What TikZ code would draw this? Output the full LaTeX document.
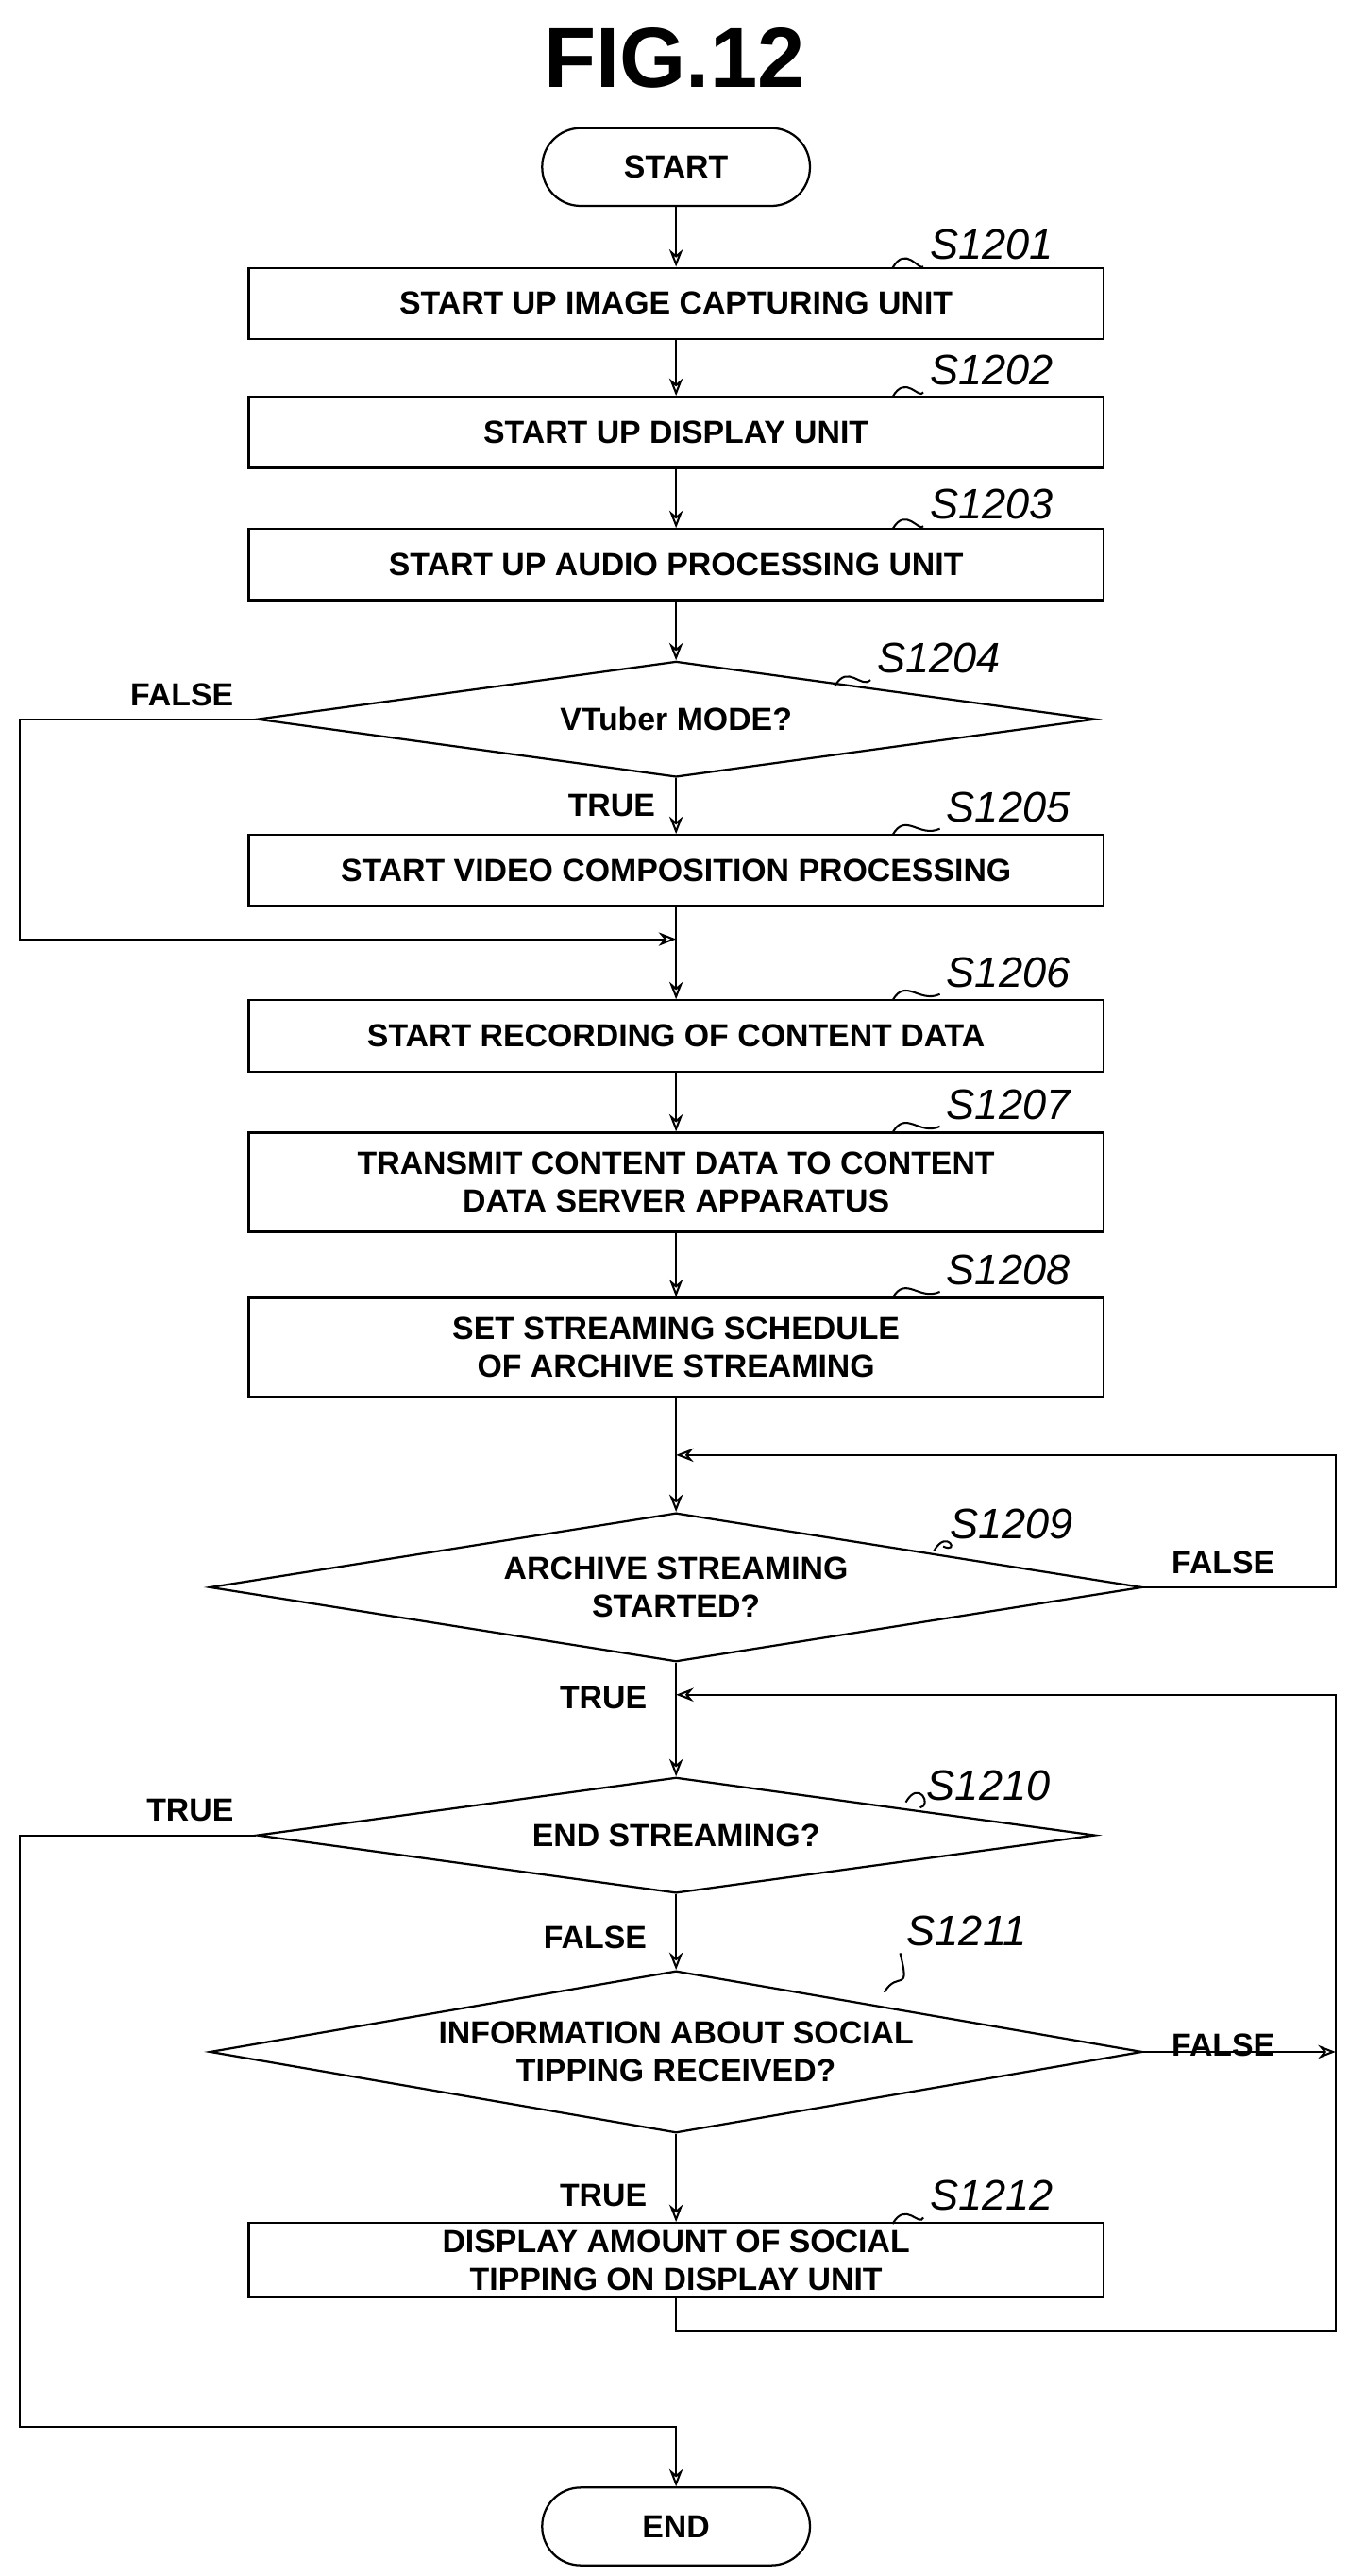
\documentclass[tikz,border=0pt]{standalone}
\usepackage{fontspec}
\setmainfont{Liberation Sans}
\usetikzlibrary{shapes.geometric,arrows.meta}
\begin{document}
\begin{tikzpicture}[x=0.03cm,y=-0.03cm,
  box/.style={draw,line width=1.1pt,minimum width=15.51cm,inner sep=0pt,align=center,font=\fontsize{16.5}{19.5}\selectfont\bfseries},
  dia/.style={draw,diamond,line width=1.1pt,inner sep=0pt,align=center,font=\fontsize{16.5}{19.5}\selectfont\bfseries},
  arr/.style={line width=1pt,-{Stealth[length=9pt,width=7pt,open]}},
  ln/.style={line width=1pt},
  lab/.style={font=\fontsize{22}{26}\selectfont\itshape},
  tf/.style={font=\fontsize{16.5}{19.5}\selectfont\bfseries}]
\useasboundingbox (0,0) rectangle (816,1558);
\node[font=\fontsize{44}{50}\selectfont\bfseries] (title) at (408,35) {FIG.12};
\node[draw,rounded corners=0.7cm,line width=1.1pt,minimum width=4.86cm,minimum height=1.41cm,font=\fontsize{16.5}{19.5}\selectfont\bfseries] (start) at (409,101) {START};
\node[box,minimum height=1.29cm] (s1) at (409,183.5) {START UP IMAGE CAPTURING UNIT};
\node[box,minimum height=1.29cm] (s2) at (409,261.5) {START UP DISPLAY UNIT};
\node[box,minimum height=1.29cm] (s3) at (409,341.5) {START UP AUDIO PROCESSING UNIT};
\node[dia,minimum width=15.21cm,minimum height=2.1cm,aspect=7.24] (s4) at (409,435) {VTuber MODE?};
\node[box,minimum height=1.29cm] (s5) at (409,526.5) {START VIDEO COMPOSITION PROCESSING};
\node[box,minimum height=1.29cm] (s6) at (409,626.5) {START RECORDING OF CONTENT DATA};
\node[box,minimum height=1.8cm] (s7) at (409,715) {TRANSMIT CONTENT DATA TO CONTENT\\DATA SERVER APPARATUS};
\node[box,minimum height=1.8cm] (s8) at (409,815) {SET STREAMING SCHEDULE\\OF ARCHIVE STREAMING};
\node[dia,minimum width=16.92cm,minimum height=2.7cm,aspect=6.27] (s9) at (409,960) {ARCHIVE STREAMING\\STARTED?};
\node[dia,minimum width=15.21cm,minimum height=2.1cm,aspect=7.24] (s10) at (409,1110) {END STREAMING?};
\node[dia,minimum width=16.92cm,minimum height=2.94cm,aspect=5.75] (s11) at (409,1241) {INFORMATION ABOUT SOCIAL\\TIPPING RECEIVED?};
\node[box,minimum height=1.35cm] (s12) at (409,1367) {DISPLAY AMOUNT OF SOCIAL\\TIPPING ON DISPLAY UNIT};
\node[draw,rounded corners=0.7cm,line width=1.1pt,minimum width=4.86cm,minimum height=1.41cm,font=\fontsize{16.5}{19.5}\selectfont\bfseries] (end) at (409,1528) {END};
% step labels
\foreach \n/\t/\x/\y/\bx/\by in {l1/S1201/600/148/540/162, l2/S1202/600/224/540/240, l3/S1203/600/305/540/320,
  l4/S1204/568/398/505/415, l5/S1205/610/488/540/505, l6/S1206/610/588/540/605, l7/S1207/610/668/540/685,
  l8/S1208/610/768/540/785, l9/S1209/612/922/565/938, l10/S1210/598/1080/548/1090, l11/S1211/585/1168/535/1205, l12/S1212/600/1328/540/1345}{
  \node[lab] (\n) at (\x,\y) {\t};
  \draw[ln] (\bx,\by) .. controls (\bx+8,\by-14) and (\bx+16,\by+2) .. (\n.west|-\n.south);
}
% coordinates
\coordinate (j1) at (409,568);
\coordinate (j2) at (409,880);
\coordinate (j3) at (409,1025);
\coordinate (j4) at (409,1468);
\coordinate (r1) at (808,1241);
% arrows
\draw[arr] (start) -- (s1);
\draw[arr] (s1) -- (s2);
\draw[arr] (s2) -- (s3);
\draw[arr] (s3) -- (s4);
\draw[arr] (s4) -- (s5);
\draw[arr] (s5) -- (s6);
\draw[arr] (s4.west) -- (12,435) -- (12,568) -- (j1);
\draw[arr] (s6) -- (s7);
\draw[arr] (s7) -- (s8);
\draw[arr] (s8) -- (s9);
\draw[arr] (s9.east) -- (808,960) -- (808,880) -- (j2);
\draw[arr] (s9) -- (s10);
\draw[arr] (s10) -- (s11);
\draw[arr] (s11) -- (s12);
\draw[arr] (s10.west) -- (12,1110) -- (12,1468) -- (j4) -- (end);
\draw[arr] (s11.east) -- (r1);
\draw[arr] (s12.south) -- (409,1410) -- (808,1410) -- (808,1025) -- (j3);
% branch labels
\node[tf] (f1) at (110,420) {FALSE};
\node[tf] (t1) at (370,487) {TRUE};
\node[tf] (f2) at (740,945) {FALSE};
\node[tf] (t2) at (365,1027) {TRUE};
\node[tf] (t3) at (115,1095) {TRUE};
\node[tf] (f3) at (360,1172) {FALSE};
\node[tf] (f4) at (740,1237) {FALSE};
\node[tf] (t4) at (365,1328) {TRUE};
\end{tikzpicture}
\end{document}
